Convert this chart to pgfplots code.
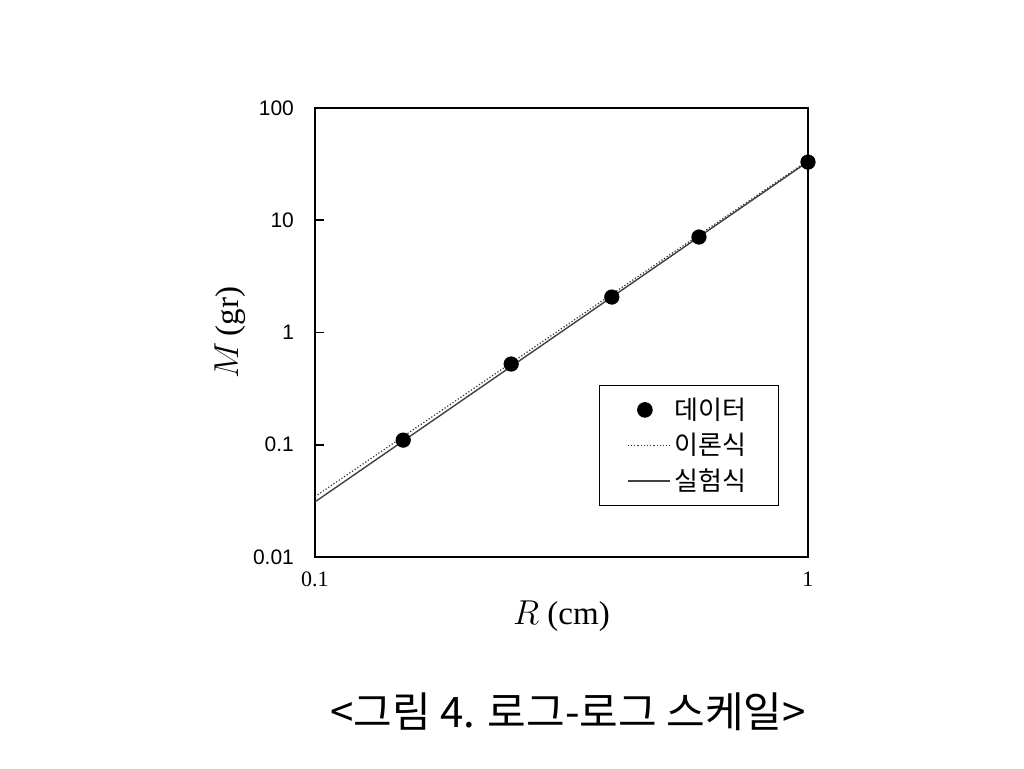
\documentclass[border=0pt]{standalone}
\usepackage{fontspec}
\setmainfont{Liberation Serif}
\newfontfamily\kr{Noto Sans CJK KR}
\newfontfamily\ticksans{Liberation Sans}
\usepackage{pgfplots}
\pgfplotsset{compat=1.18}
\pgfplotsset{longleg/.style={legend image code/.code={\draw[##1] (0pt,0pt) -- (21pt,0pt);}}}
\begin{document}
\begin{tikzpicture}
\path[use as bounding box] (0pt,0pt) rectangle (512pt,384pt);
\begin{axis}[
  at={(157.5pt,105.5pt)}, anchor=south west,
  scale only axis, width=246.5pt, height=224.5pt,
  xmode=log, ymode=log,
  xmin=0.1, xmax=1, ymin=0.01, ymax=100,
  xtick={0.1,1}, xticklabels={0.1,1},
  ytick={0.01,0.1,1,10,100}, yticklabels={0.01,0.1,1,10,100},
  xminorticks=false, yminorticks=false,
  tick align=inside, ytick pos=left, xtick pos=bottom,
  major tick length=4.5pt,
  x tick style={draw=none},
  axis line style={line width=1pt},
  y tick style={line width=0.8pt, black},
  xticklabel style={font=\fontsize{11}{13}\selectfont, yshift=-4pt},
  yticklabel style={font=\ticksans\fontsize{10.5}{12}\selectfont, xshift=-7pt},
  xlabel={$R$ (cm)}, ylabel={$M$\,(gr)},
  label style={font=\fontsize{16.5}{19}\selectfont},
  xlabel style={yshift=0pt},
  ylabel style={yshift=-3pt},
  legend style={at={(0.941,0.383)}, anchor=north east, draw=black, line width=0.6pt,
    font=\kr\fontsize{13}{15}\selectfont, row sep=1.5pt, inner xsep=14pt, inner ysep=4pt},
  legend cell align=left,
]
\addplot[only marks, mark=*, mark size=3.6pt, black] coordinates {
(0.151,0.110) (0.250,0.524) (0.400,2.07) (0.601,7.09) (1.0,33.0)};
\addlegendentry{데이터}
\addplot[longleg, densely dotted, line width=0.6pt, black!80] coordinates {(0.1,0.0345) (1,34.0)};
\addlegendentry{이론식}
\addplot[longleg, line width=0.7pt, black!75] coordinates {(0.1,0.0310) (1,33.3)};
\addlegendentry{실험식}
\end{axis}
\node[font=\kr\fontsize{21}{24}\selectfont] at (284pt,28pt) {<그림 4. 로그-로그 스케일>};
\end{tikzpicture}
\end{document}
